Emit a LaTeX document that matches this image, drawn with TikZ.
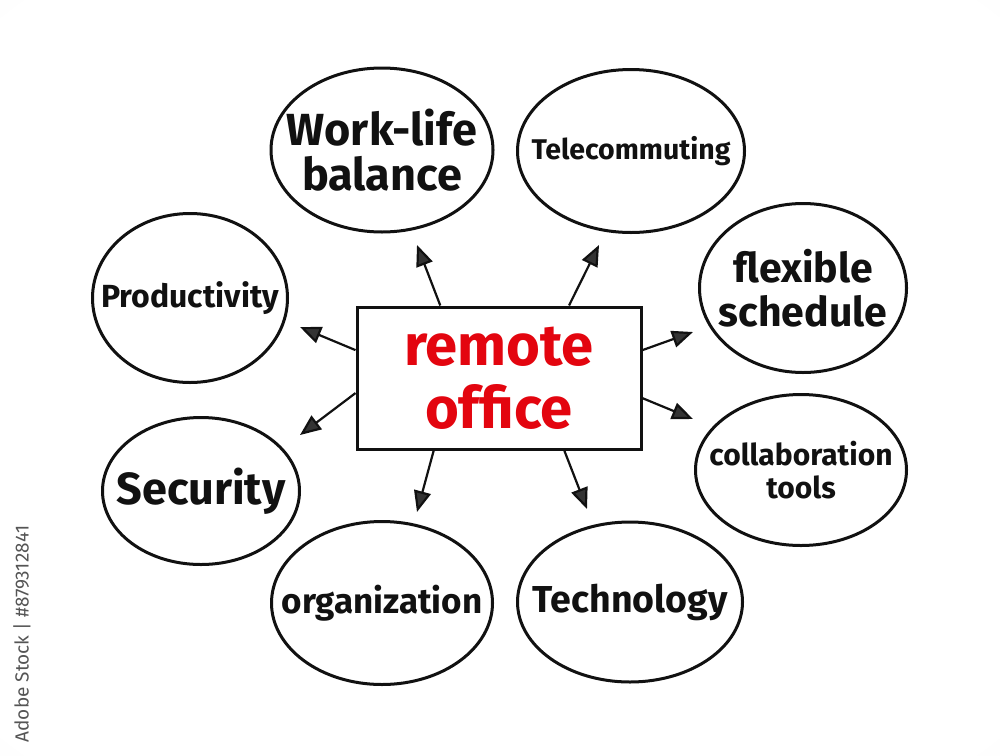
\documentclass[tikz,border=0pt]{standalone}
\usepackage{fontspec}
\setmainfont{Fira Sans}
\usepackage{xcolor}
\usepackage{tikz}
\usetikzlibrary{arrows.meta,shapes.geometric}
\definecolor{MRed}{HTML}{E3050F}
\definecolor{MInk}{HTML}{111111}
\definecolor{MGrey}{HTML}{555555}
\pgfdeclareradialshading{paperglow}{\pgfpoint{0bp}{0bp}}{color(0bp)=(white);color(34bp)=(white);color(72bp)=(black!14)}
\newcommand{\mapfs}[2]{\fontsize{#1}{#2}\selectfont}

\begin{document}
\begin{tikzpicture}[
  x=1pt,y=-1pt,
  every node/.style={text=MInk},
  idea/.style={draw=MInk,line width=3pt,ellipse,fill=white,inner sep=0pt},
  word/.style={align=center,font=\bfseries\mapfs{#1}{#1}},
  core/.style={draw=MInk,line width=3pt,fill=white,minimum width=284pt,
    minimum height=142pt,inner sep=0pt,align=center,text=MRed},
  arr/.style={-{Triangle[length=21pt,width=17pt,fill=black!80]},line width=2.2pt,draw=MInk}
]
  \useasboundingbox (0,0) rectangle (1000,755);
  \shade[shading=paperglow] (0,0) rectangle (1000,755);

  \node[core,font=\bfseries\mapfs{58}{63}] (hub) at (499,378) {remote\\office};

  \node[idea,minimum width=222pt,minimum height=164pt,
    label={[word=45]center:Work-life\\balance}] (wlb) at (382,150) {};
  \node[idea,minimum width=227pt,minimum height=163pt,
    label={[word=28.5]center:Telecommuting}] (tel) at (631,151) {};
  \node[idea,minimum width=195pt,minimum height=169pt,
    label={[word=32]center:Productivity}] (prd) at (190,298) {};
  \node[idea,minimum width=207pt,minimum height=169pt,
    label={[word=41,font=\bfseries\mapfs{41}{44}]center:flexible\\schedule}] (flx) at (803,288) {};
  \node[idea,minimum width=197pt,minimum height=147pt,
    label={[word=45]center:Security}] (sec) at (201,491) {};
  \node[idea,minimum width=211pt,minimum height=151pt,
    label={[word=30,font=\bfseries\mapfs{30}{33}]center:collaboration\\tools}] (col) at (801,470) {};
  \node[idea,minimum width=221pt,minimum height=163pt,
    label={[word=35]center:organization}] (org) at (382,603) {};
  \node[idea,minimum width=225pt,minimum height=160pt,
    label={[word=37.5]center:Technology}] (tec) at (630,602) {};

  % free ends of the arrows, just short of each bubble
  \coordinate (wlb-end) at (417,245);
  \coordinate (tel-end) at (599,245);
  \coordinate (prd-end) at (300,327);
  \coordinate (sec-end) at (300,435);
  \coordinate (flx-end) at (693,332);
  \coordinate (col-end) at (693,419);
  \coordinate (org-end) at (417,512);
  \coordinate (tec-end) at (587,509);

  \foreach \ang/\tip in {129.6/wlb,46.6/tel,169.7/prd,186/sec,11/flx,-8/col,228.4/org,-48.4/tec}
    {\draw[arr] (hub.\ang) -- (\tip-end);}

  \node[rotate=90,font=\mapfs{19}{19},text=MGrey] (stockid) at (22,634) {Adobe Stock | \#879312841};
\end{tikzpicture}
\end{document}
